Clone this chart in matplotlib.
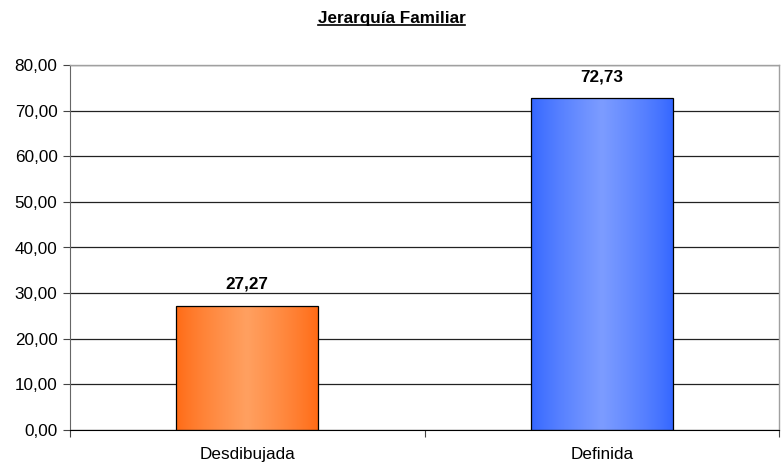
import numpy as np
import matplotlib.pyplot as plt
from matplotlib.colors import LinearSegmentedColormap
from matplotlib.lines import Line2D

plt.rcParams['font.family'] = ['Liberation Sans', 'DejaVu Sans']

# --------------------
# Data
# --------------------
categories = ["Desdibujada", "Definida"]
values = [27.27, 72.73]
edge_colors = ["#FF6A14", "#3366FF"]
mid_colors = ["#FFA060", "#7C9CFF"]

fs = 12.3

fig = plt.figure(figsize=(7.83, 4.65), dpi=100)
ax = fig.add_axes([70 / 783, 1 - 430 / 465, 709 / 783, 365 / 465])

xs = np.arange(len(categories)) + 0.5
width = 0.4

# gridlines
ax.set_yticks(np.arange(0, 81, 10))
ax.yaxis.grid(True, color="#222222", linewidth=0.9)
ax.set_axisbelow(True)

# gradient bars
grad = np.concatenate([np.linspace(0, 1, 128), np.linspace(1, 0, 128)])
grad = np.abs(grad) ** 0.8
for x, v, c0, c1 in zip(xs, values, edge_colors, mid_colors):
    cmap = LinearSegmentedColormap.from_list("g", [c0, c1])
    bar = ax.bar(x, v, width=width, color="none", edgecolor="black",
                 linewidth=0.9, zorder=3)[0]
    im = ax.imshow(grad[np.newaxis, :], cmap=cmap, aspect="auto",
                   extent=[x - width / 2, x + width / 2, 0, v], zorder=2)
    im.set_clip_path(bar)
    ax.annotate(f"{v:.2f}".replace(".", ","), (x, v), xytext=(0, 15.5),
                textcoords="offset points", ha="center", va="center",
                fontsize=fs, fontweight="bold")

ax.set_xlim(0, len(categories))
ax.set_ylim(0, 80)

# y labels with comma decimals
ax.set_yticklabels([f"{t:.2f}".replace(".", ",") for t in np.arange(0, 81, 10)],
                   fontsize=fs)
ax.tick_params(axis="y", length=5, width=0.8, color="#444444", pad=4)

# x ticks: labels at bar centers, tick marks at category boundaries
ax.set_xticks(xs)
ax.set_xticklabels(categories, fontsize=fs)
ax.tick_params(axis="x", length=0, pad=12)
ax.set_xticks(np.arange(len(categories) + 1), minor=True)
ax.tick_params(axis="x", which="minor", length=5, width=0.8, color="#444444")

for side in ["top", "right"]:
    ax.spines[side].set_color("#A0A0A0")
    ax.spines[side].set_linewidth(1.0)
ax.spines["left"].set_color("#666666")
ax.spines["bottom"].set_color("black")

# title with underline
title = fig.text(0.5, 1 - 19 / 465, "Jerarquía Familiar", ha="center",
                 va="center", fontsize=fs, fontweight="bold")
fig.canvas.draw()
bb = title.get_window_extent()
y_line = (bb.y0 + 1) / fig.bbox.height
fig.add_artist(Line2D([bb.x0 / fig.bbox.width, bb.x1 / fig.bbox.width],
                      [y_line, y_line], color="black", linewidth=1.2))

fig.savefig("out.png", dpi=100)
